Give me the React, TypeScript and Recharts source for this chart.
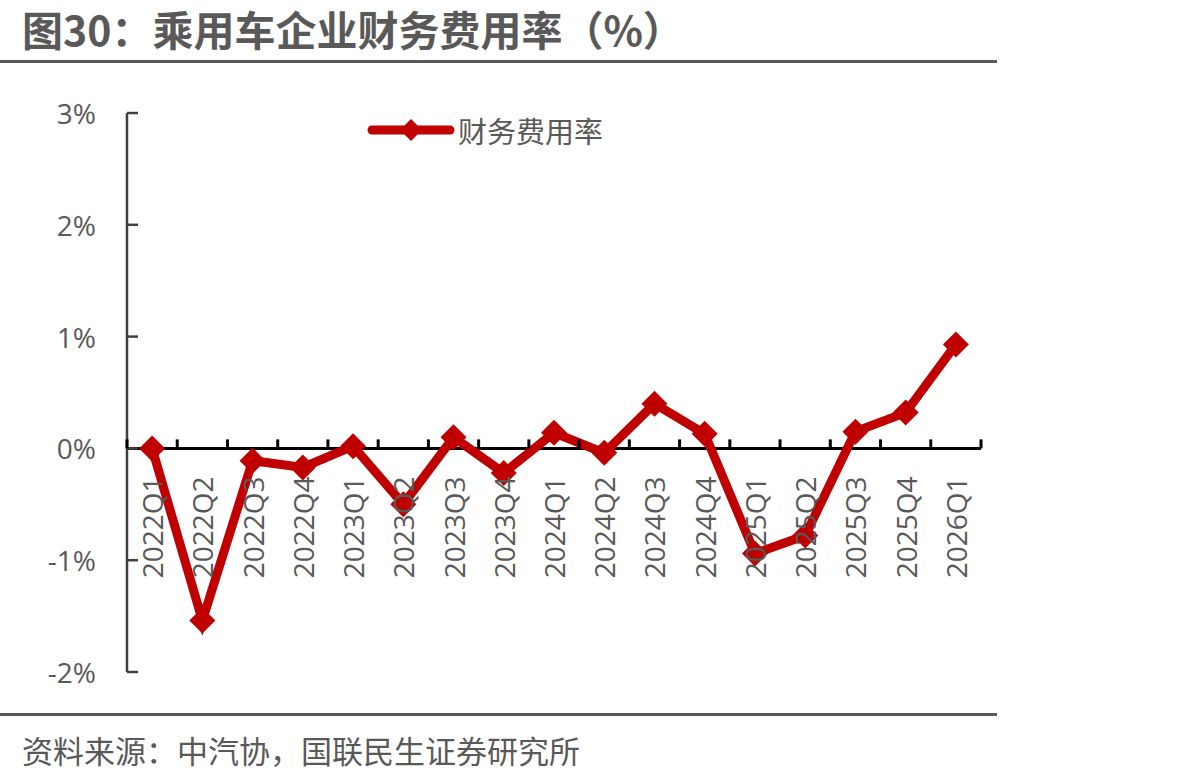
import { LineChart, Line, XAxis, YAxis, ReferenceLine, Legend } from 'recharts'

const quarters = [
  '2022Q1', '2022Q2', '2022Q3', '2022Q4',
  '2023Q1', '2023Q2', '2023Q3', '2023Q4',
  '2024Q1', '2024Q2', '2024Q3', '2024Q4',
  '2025Q1', '2025Q2', '2025Q3', '2025Q4',
  '2026Q1',
]
// 财务费用率 (%)
const financeRate = [
  0, -1.54, -0.11, -0.17,
  0.02, -0.5, 0.1, -0.22,
  0.14, -0.04, 0.4, 0.13,
  -0.94, -0.78, 0.15, 0.32,
  0.93,
]
const yTicks = [-2, -1, 0, 1, 2, 3]

const data = quarters.map((q, i) => ({ q, rate: financeRate[i] }))

const W = 1180
const H = 782
const PLOT_LEFT = 127
const PLOT_RIGHT = 981
const PLOT_TOP = 113
const PLOT_BOTTOM = 672
const Y_MIN = yTicks[0]
const Y_MAX = yTicks[yTicks.length - 1]
const BAND = (PLOT_RIGHT - PLOT_LEFT) / quarters.length
const ZERO_Y = PLOT_TOP + ((Y_MAX - 0) / (Y_MAX - Y_MIN)) * (PLOT_BOTTOM - PLOT_TOP)

const RED = '#C00000'
const GREY = '#595959'
const FONT = "'Open Sans', 'Noto Sans CJK SC', sans-serif"
const CJK = "'Noto Sans CJK SC', sans-serif"

function Diamond(props: any) {
  const { cx, cy } = props
  if (cx == null || cy == null) return null
  const r = 13
  return (
    <polygon
      points={`${cx},${cy - r} ${cx + r},${cy} ${cx},${cy + r} ${cx - r},${cy}`}
      fill={RED}
    />
  )
}

// category labels sit under the zero line, ticks mark band edges
function QuarterTick(props: any) {
  const { x, payload, index } = props
  const last = index === quarters.length - 1
  return (
    <g>
      <line x1={x - BAND / 2} x2={x - BAND / 2} y1={ZERO_Y} y2={ZERO_Y - 9} stroke="#000" strokeWidth={3} />
      {last && (
        <line x1={x + BAND / 2} x2={x + BAND / 2} y1={ZERO_Y} y2={ZERO_Y - 9} stroke="#000" strokeWidth={3} />
      )}
      <text
        transform={`translate(${x}, ${ZERO_Y + 28}) rotate(-90)`}
        textAnchor="end"
        dominantBaseline="central"
        fontSize={28}
        fontFamily={FONT}
        fill={GREY}
      >
        {payload.value}
      </text>
    </g>
  )
}

function PercentTick(props: any) {
  const { y, payload } = props
  const x = PLOT_LEFT
  return (
    <g>
      <line x1={x} x2={x + 11} y1={y} y2={y} stroke="#404040" strokeWidth={2.5} />
      <text x={x - 31} y={y} textAnchor="end" dominantBaseline="central" fontSize={28} fontFamily={FONT} fill={GREY}>
        {payload.value}%
      </text>
    </g>
  )
}

function LegendBox() {
  return (
    <div style={{ display: 'flex', alignItems: 'center' }}>
      <svg width={88} height={30}>
        <line x1={5} x2={83} y1={15} y2={15} stroke={RED} strokeWidth={9} strokeLinecap="round" />
        <polygon points="44,4 55,15 44,26 33,15" fill={RED} />
      </svg>
      <span style={{ fontFamily: CJK, fontSize: 29, color: GREY, marginLeft: 3, lineHeight: '30px' }}>
        财务费用率
      </span>
    </div>
  )
}

export default function App() {
  return (
    <div style={{ position: 'absolute', left: 0, top: 0, width: W, height: H, background: '#fff' }}>
      <div
        style={{
          position: 'absolute',
          left: 22,
          top: 5,
          fontFamily: CJK,
          fontWeight: 700,
          fontSize: 41,
          color: GREY,
          lineHeight: '46px',
          whiteSpace: 'nowrap',
        }}
      >
        图30：乘用车企业财务费用率（%）
      </div>
      <div style={{ position: 'absolute', left: 0, top: 60, width: 997, height: 3, background: GREY }} />

      <LineChart
        width={W}
        height={H}
        data={data}
        margin={{ top: PLOT_TOP, left: PLOT_LEFT - 1, right: W - PLOT_RIGHT, bottom: H - PLOT_BOTTOM - 1 }}
        style={{ position: 'absolute', left: 0, top: 0 }}
      >
        <YAxis
          type="number"
          domain={[Y_MIN, Y_MAX]}
          ticks={yTicks}
          width={1}
          axisLine={{ stroke: '#404040', strokeWidth: 2.5 }}
          tickLine={false}
          tickSize={0}
          tickMargin={0}
          tick={<PercentTick />}
          interval={0}
        />
        <XAxis
          dataKey="q"
          height={1}
          axisLine={false}
          tickLine={false}
          tickSize={0}
          tick={<QuarterTick />}
          interval={0}
          padding={{ left: BAND / 2, right: BAND / 2 }}
        />
        <ReferenceLine y={0} stroke="#000" strokeWidth={3} />
        <Legend
          layout="horizontal"
          verticalAlign="middle"
          align="center"
          wrapperStyle={{ top: 115, left: 367, width: 'auto' }}
          content={<LegendBox />}
        />
        <Line
          type="linear"
          dataKey="rate"
          stroke={RED}
          strokeWidth={9}
          dot={<Diamond />}
          activeDot={false}
          isAnimationActive={false}
        />
      </LineChart>

      <div style={{ position: 'absolute', left: 0, top: 713, width: 997, height: 3, background: GREY }} />
      <div
        style={{
          position: 'absolute',
          left: 22,
          top: 729,
          fontFamily: CJK,
          fontSize: 31,
          color: GREY,
          lineHeight: '42px',
          whiteSpace: 'nowrap',
        }}
      >
        资料来源：中汽协，国联民生证券研究所
      </div>
    </div>
  )
}
